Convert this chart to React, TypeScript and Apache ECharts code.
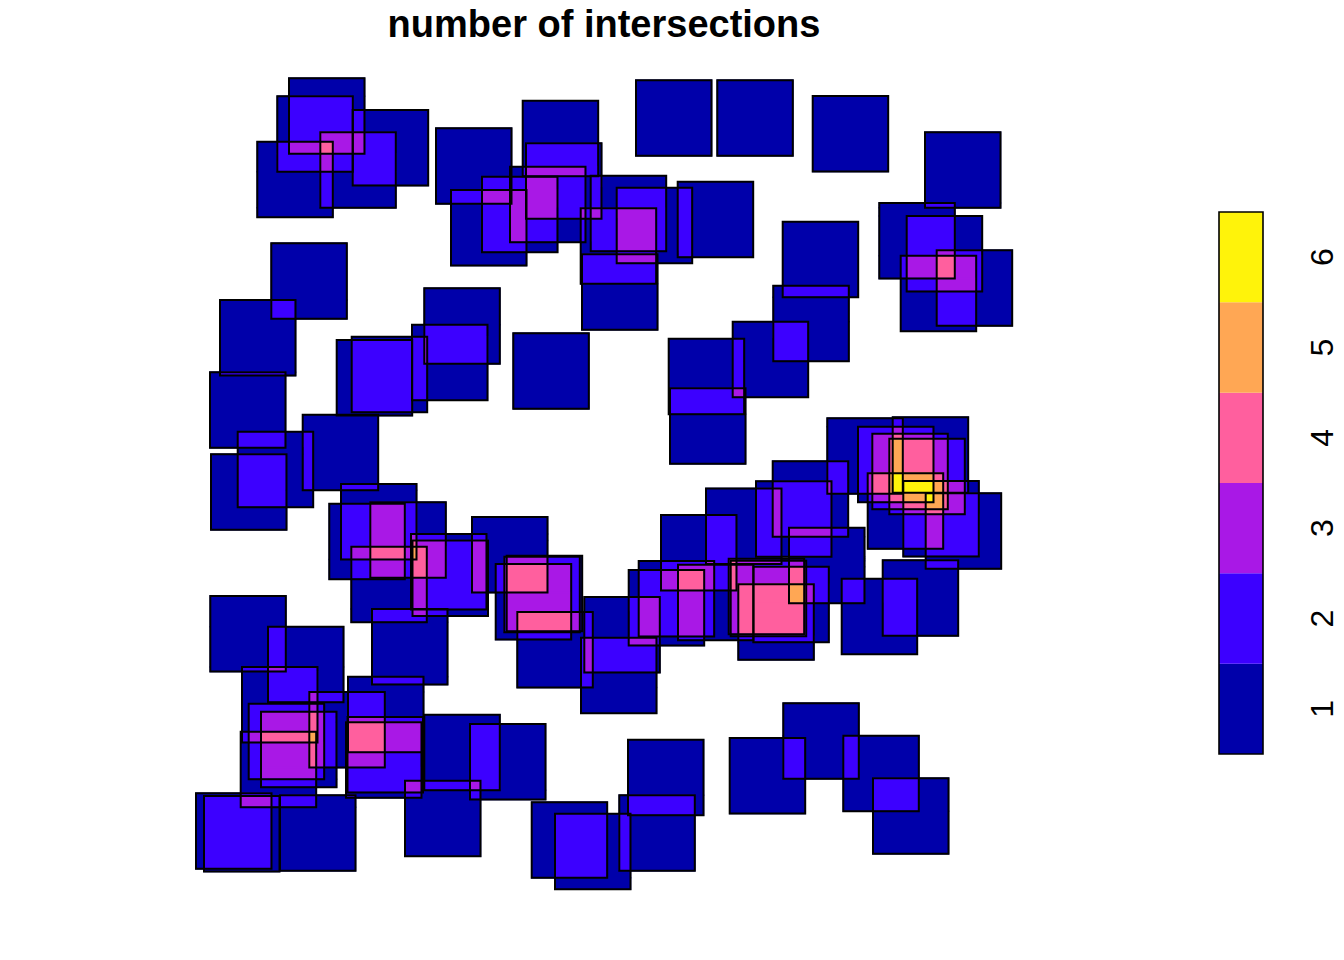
import { useEffect, useRef } from 'react';
import * as echarts from 'echarts';

// every square has the same side, in page pixels
const SIDE = 75.5;

// top-left corner of each square (page pixels)
const SQUARE_X = [
  289, 277.3, 352.7, 320.3, 257.3, 436, 451, 522.7, 526, 510,
  482, 590.7, 616.7, 677.7, 580.7, 582, 636, 717.3, 812.7, 925,
  879.3, 906.7, 936.7, 900.7, 782.7, 773.3, 732.7, 668.7, 670, 271.3,
  220, 424.3, 412, 336.7, 351.7, 513.3, 210, 237.7, 211, 302.7,
  341, 329.3, 370.3, 351.3, 411, 412.5, 472, 372, 495.7, 504.3,
  506.7, 517.3, 584.3, 581, 628.7, 638.7, 661, 678, 706, 728.7,
  730.7, 753.3, 738.3, 756, 772.7, 789, 841.7, 882.7, 827.3, 892.7,
  858, 872.3, 889.3, 867.7, 903.3, 925.7, 210.3, 268, 242, 248.7,
  261, 240.7, 309.3, 348, 347.5, 346, 424.3, 470, 405, 196,
  204, 280, 531.7, 555, 619.3, 628, 783.3, 729.7, 843.3, 873,
];
const SQUARE_Y = [
  78.3, 96.3, 110, 132.3, 141.7, 128.3, 190, 100.7, 143.3, 166.7,
  176.7, 175.7, 187.7, 181.7, 208.3, 254.3, 80.3, 80.3, 96, 132.3,
  203, 216, 250.3, 255.7, 221.7, 285.7, 321.7, 338.7, 388.3, 243.3,
  300, 288.3, 324.7, 340, 336.7, 333.3, 372.3, 431.7, 454.3, 414.7,
  484, 503.7, 502.3, 546.7, 534, 540.5, 517, 609, 564, 556.7,
  555.7, 612, 597, 637.7, 570, 561, 515, 564.7, 488.5, 558.7,
  560.7, 566.7, 584.3, 481.3, 461.3, 527.7, 578.7, 560.3, 418.3, 417.3,
  426.7, 433.7, 438.7, 473.3, 481, 493.3, 596, 626.7, 667, 703.7,
  711.7, 731.7, 692, 676.7, 717, 722.3, 714.7, 724, 780.7, 793.3,
  796, 795.3, 802.3, 813.7, 795.3, 739.7, 703.3, 738, 735.7, 778.3,
];

const LEVEL_LABELS = ['1', '2', '3', '4', '5', '6'];
const LEVEL_COLORS = ['#0000AA', '#3C00FF', '#A918E6', '#FF5F9E', '#FFA754', '#FFF30A'];

// split the union of squares into rectangles of constant overlap count
function overlapCells() {
  const n = SQUARE_X.length;
  const ys = Array.from(new Set(SQUARE_Y.flatMap((y) => [y, y + SIDE]))).sort((a, b) => a - b);
  const cells: number[][] = [];
  let open = new Map<string, number[]>();
  for (let k = 0; k < ys.length - 1; k++) {
    const y0 = ys[k];
    const y1 = ys[k + 1];
    const mid = (y0 + y1) / 2;
    const ev: [number, number][] = [];
    for (let i = 0; i < n; i++) {
      if (SQUARE_Y[i] < mid && SQUARE_Y[i] + SIDE > mid) {
        ev.push([SQUARE_X[i], 1]);
        ev.push([SQUARE_X[i] + SIDE, -1]);
      }
    }
    ev.sort((a, b) => a[0] - b[0]);
    const segs: number[][] = [];
    let count = 0;
    let start = 0;
    for (let j = 0; j < ev.length; ) {
      const x = ev[j][0];
      let c = count;
      while (j < ev.length && ev[j][0] === x) {
        c += ev[j][1];
        j++;
      }
      if (c !== count) {
        if (count > 0) segs.push([start, x, count]);
        start = x;
        count = c;
      }
    }
    const next = new Map<string, number[]>();
    for (const [x0, x1, c] of segs) {
      const key = `${x0}|${x1}|${c}`;
      const prev = open.get(key);
      if (prev && prev[3] === y0) {
        prev[3] = y1;
        next.set(key, prev);
      } else {
        const rect = [x0, y0, x1, y1, c];
        cells.push(rect);
        next.set(key, rect);
      }
    }
    open = next;
  }
  return cells;
}

export default function App() {
  const ref = useRef<HTMLDivElement>(null);

  useEffect(() => {
    if (!ref.current) return;
    document.body.style.margin = '0';
    const chart = echarts.init(ref.current, null, { renderer: 'svg' });

    chart.setOption({
      animation: false,
      backgroundColor: '#fff',
      title: {
        text: 'number of intersections',
        left: 604,
        top: 5,
        padding: 0,
        textAlign: 'center',
        textStyle: { fontSize: 38, fontWeight: 'bold', fontFamily: 'Liberation Sans', color: '#000' },
      },
      grid: [
        { left: 0, top: 0, width: 1344, height: 960 },
        { left: 1219, top: 212, width: 44, height: 542, show: true, borderColor: '#000', borderWidth: 1.6, z: 10 },
      ],
      xAxis: [
        { type: 'value', gridIndex: 0, min: 0, max: 1344, show: false },
        { type: 'value', gridIndex: 1, min: 0, max: 1, show: false },
      ],
      yAxis: [
        { type: 'value', gridIndex: 0, min: 0, max: 960, inverse: true, show: false },
        {
          type: 'category',
          gridIndex: 1,
          data: LEVEL_LABELS,
          position: 'right',
          axisLine: { show: false },
          axisTick: { show: true, alignWithLabel: true, length: 19, lineStyle: { color: '#000', width: 1.6 } },
          axisLabel: { rotate: 90, fontSize: 32, color: '#000', fontFamily: 'Liberation Sans', margin: 43 },
          splitLine: { show: false },
        },
      ],
      series: [
        {
          type: 'custom',
          xAxisIndex: 0,
          yAxisIndex: 0,
          data: overlapCells(),
          encode: { x: [0, 2], y: [1, 3] },
          renderItem: (_params: any, api: any) => {
            const p0 = api.coord([api.value(0), api.value(1)]);
            const p1 = api.coord([api.value(2), api.value(3)]);
            const color = LEVEL_COLORS[api.value(4) - 1];
            return {
              type: 'rect',
              shape: { x: p0[0], y: p0[1], width: p1[0] - p0[0], height: p1[1] - p0[1] },
              style: { fill: color, stroke: color, lineWidth: 1.4 },
            };
          },
        },
        {
          type: 'custom',
          xAxisIndex: 0,
          yAxisIndex: 0,
          data: SQUARE_X.map((x, i) => [x, SQUARE_Y[i]]),
          renderItem: (_params: any, api: any) => {
            const p0 = api.coord([api.value(0), api.value(1)]);
            const p1 = api.coord([api.value(0) + SIDE, api.value(1) + SIDE]);
            return {
              type: 'rect',
              shape: { x: p0[0], y: p0[1], width: p1[0] - p0[0], height: p1[1] - p0[1] },
              style: { fill: 'none', stroke: '#000', lineWidth: 2 },
            };
          },
        },
        {
          type: 'bar',
          xAxisIndex: 1,
          yAxisIndex: 1,
          barCategoryGap: '0%',
          data: LEVEL_COLORS.map((c) => ({ value: 1, itemStyle: { color: c } })),
        },
      ],
    });

    return () => chart.dispose();
  }, []);

  return <div ref={ref} style={{ width: 1344, height: 960 }} />;
}
